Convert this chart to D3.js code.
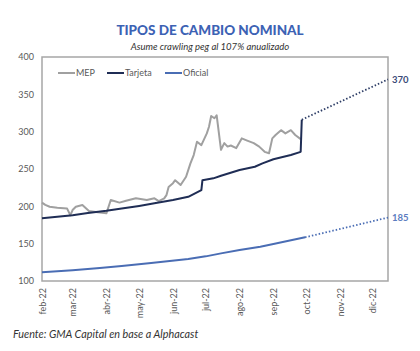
<!DOCTYPE html>
<html>
<head>
<meta charset="utf-8">
<script src="https://cdn.jsdelivr.net/npm/d3@7"></script>
<style>
  body { margin: 0; background: #fff; }
  text { font-family: Lato, "Open Sans", sans-serif; }
</style>
</head>
<body>
<div id="chart"></div>
<script>
// Series
const mep = [
  ["2022-02-01", 205], ["2022-02-04", 202], ["2022-02-08", 199.5], ["2022-02-15", 198],
  ["2022-02-24", 197], ["2022-02-27", 188], ["2022-03-01", 195], ["2022-03-04", 199.5],
  ["2022-03-10", 201.7], ["2022-03-16", 193.7], ["2022-03-24", 192], ["2022-04-01", 190.6],
  ["2022-04-05", 208.4], ["2022-04-13", 205], ["2022-04-19", 207.5], ["2022-04-28", 210.7],
  ["2022-05-08", 208.4], ["2022-05-15", 210.7], ["2022-05-19", 207], ["2022-05-24", 210.7],
  ["2022-05-26", 215], ["2022-05-28", 226], ["2022-06-01", 231], ["2022-06-03", 235],
  ["2022-06-08", 228.5], ["2022-06-13", 239.6], ["2022-06-17", 257.5], ["2022-06-20", 268.7],
  ["2022-06-23", 286.5], ["2022-06-27", 282], ["2022-07-02", 297.7], ["2022-07-04", 306.6],
  ["2022-07-06", 321], ["2022-07-09", 318], ["2022-07-11", 322], ["2022-07-15", 275.7],
  ["2022-07-18", 284.6], ["2022-07-21", 280], ["2022-07-24", 281.5], ["2022-07-29", 278],
  ["2022-08-03", 291], ["2022-08-08", 288], ["2022-08-14", 284.6], ["2022-08-19", 280],
  ["2022-08-24", 273], ["2022-08-28", 271], ["2022-08-31", 291], ["2022-09-03", 295.5],
  ["2022-09-08", 302], ["2022-09-12", 297.7], ["2022-09-17", 302], ["2022-09-21", 295.5],
  ["2022-09-26", 290]
];

const tarjeta = [
  ["2022-02-01", 184], ["2022-02-15", 186], ["2022-03-01", 188], ["2022-03-15", 191],
  ["2022-04-01", 194], ["2022-04-15", 197], ["2022-05-01", 200.5], ["2022-05-15", 204],
  ["2022-06-01", 208.5], ["2022-06-15", 212.8], ["2022-06-27", 221.8], ["2022-06-28", 235],
  ["2022-07-08", 237.5], ["2022-07-15", 241], ["2022-08-01", 248.6], ["2022-08-15", 253],
  ["2022-08-22", 257.5], ["2022-09-01", 263], ["2022-09-17", 268.7], ["2022-09-26", 273],
  ["2022-09-27", 316]
];

const oficial = [
  ["2022-02-01", 111.6], ["2022-03-01", 114.5], ["2022-03-26", 117.4], ["2022-04-15", 120],
  ["2022-05-12", 124], ["2022-06-15", 129.5], ["2022-07-01", 133], ["2022-07-15", 137],
  ["2022-08-01", 141.5], ["2022-08-20", 146], ["2022-09-01", 149.5], ["2022-09-30", 158.5]
];

// Projections (crawling peg 107%)
const tarjetaProj = [["2022-09-27", 316], ["2022-12-15", 370]];
const oficialProj = [["2022-09-30", 158.5], ["2022-12-15", 185]];

const yTicks = [100, 150, 200, 250, 300, 350, 400];
const monthNames = ["ene", "feb", "mar", "abr", "may", "jun", "jul", "ago", "sep", "oct", "nov", "dic"];

const parse = d3.timeParse("%Y-%m-%d");
const toPts = arr => arr.map(([d, v]) => ({ date: parse(d), value: v }));

const margin = { top: 57, right: 32, bottom: 70, left: 42 };
const W = 420, H = 351;
const width = W - margin.left - margin.right;
const height = H - margin.top - margin.bottom;

const svg = d3.select("#chart").append("svg")
  .attr("width", W)
  .attr("height", H);

// Title
svg.append("text")
  .attr("x", 210).attr("y", 35)
  .attr("text-anchor", "middle")
  .style("font-size", "13.5px")
  .style("font-weight", "900")
  .style("fill", "#3c62b4")
  .text("TIPOS DE CAMBIO NOMINAL");

svg.append("text")
  .attr("x", 210).attr("y", 50)
  .attr("text-anchor", "middle")
  .style("font-size", "9.5px")
  .style("font-style", "italic")
  .style("fill", "#333")
  .text("Asume crawling peg al 107% anualizado");

const g = svg.append("g")
  .attr("transform", `translate(${margin.left},${margin.top})`);

const x = d3.scaleTime()
  .domain([parse("2022-02-01"), parse("2022-12-15")])
  .range([0, width]);

const y = d3.scaleLinear()
  .domain([100, 400])
  .range([height, 0]);

// Plot border
g.append("rect")
  .attr("width", width).attr("height", height)
  .style("fill", "none")
  .style("stroke", "#a6a6a6")
  .style("stroke-width", 1.5);

// Y axis
g.append("g")
  .call(d3.axisLeft(y).tickValues(yTicks).tickSize(0).tickPadding(8))
  .call(a => a.select(".domain").remove())
  .selectAll("text")
  .style("font-family", "Lato, sans-serif")
  .style("font-size", "9px")
  .style("fill", "#595959");

// X axis, monthly rotated labels
const xAxis = g.append("g")
  .attr("transform", `translate(0,${height})`)
  .call(d3.axisBottom(x)
    .ticks(d3.timeMonth.every(1))
    .tickSize(0)
    .tickFormat(d => `${monthNames[d.getMonth()]}-${d3.timeFormat("%y")(d)}`));
xAxis.select(".domain").remove();
xAxis.selectAll("text")
  .attr("transform", "rotate(-90)")
  .attr("text-anchor", "end")
  .attr("x", -7)
  .attr("y", 0)
  .attr("dy", "0.35em")
  .style("font-family", "Lato, sans-serif")
  .style("font-size", "9px")
  .style("fill", "#595959");

const line = d3.line()
  .x(d => x(d.date))
  .y(d => y(d.value));

const series = [
  { name: "MEP", data: mep, color: "#a0a0a0", width: 2 },
  { name: "Tarjeta", data: tarjeta, color: "#1f2d55", width: 2 },
  { name: "Oficial", data: oficial, color: "#4a6db4", width: 2 }
];

// Dotted projections
g.append("path")
  .attr("d", line(toPts(tarjetaProj)))
  .style("fill", "none")
  .style("stroke", "#2d3d66")
  .style("stroke-width", 1.8)
  .style("stroke-dasharray", "1.5,2");

g.append("path")
  .attr("d", line(toPts(oficialProj)))
  .style("fill", "none")
  .style("stroke", "#4a6db4")
  .style("stroke-width", 1.8)
  .style("stroke-dasharray", "1.5,2");

series.forEach(s => {
  g.append("path")
    .attr("d", line(toPts(s.data)))
    .style("fill", "none")
    .style("stroke", s.color)
    .style("stroke-width", s.width)
    .style("stroke-linejoin", "round");
});

// End labels
const endLabel = (pt, color) => {
  const p = toPts([pt])[0];
  g.append("text")
    .attr("x", x(p.date) + 4)
    .attr("y", y(p.value))
    .attr("dy", "0.35em")
    .style("font-size", "9.5px")
    .style("font-weight", "bold")
    .style("fill", color)
    .text(p.value);
};
endLabel(tarjetaProj[1], "#3b4a78");
endLabel(oficialProj[1], "#5b7cc0");

// Legend
const legendX = [16, 65, 123];
const legend = g.selectAll(".legend")
  .data(series)
  .enter().append("g")
  .attr("class", "legend")
  .attr("transform", (d, i) => `translate(${legendX[i]},16)`);

legend.append("line")
  .attr("x1", 0).attr("x2", 17)
  .style("stroke", d => d.color)
  .style("stroke-width", 2);

legend.append("text")
  .attr("x", 18)
  .attr("dy", "0.35em")
  .style("font-size", "9px")
  .style("fill", "#595959")
  .text(d => d.name);

// Source
svg.append("text")
  .attr("x", 13).attr("y", 338)
  .style("font-size", "10.8px")
  .style("font-style", "italic")
  .style("fill", "#333")
  .text("Fuente: GMA Capital en base a Alphacast");
</script>
</body>
</html>
